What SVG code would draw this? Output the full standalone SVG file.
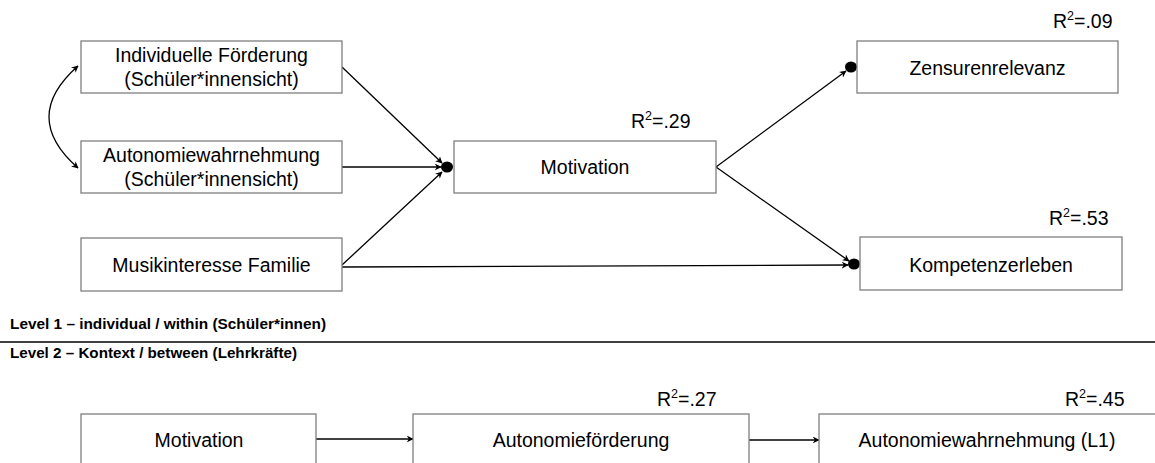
<svg xmlns="http://www.w3.org/2000/svg" width="1155" height="463" viewBox="0 0 1155 463">
<style>
  .box { fill: #ffffff; stroke: #7f7f7f; stroke-width: 1.3; }
  .lbl { font-family: "Liberation Sans", Arial, sans-serif; font-size: 19.5px; fill: #000; text-anchor: middle; }
  .r2 { font-family: "Liberation Sans", Arial, sans-serif; font-size: 19.5px; fill: #000; }
  .lvl { font-family: "Liberation Sans", Arial, sans-serif; font-size: 14px; font-weight: bold; fill: #000; }
  .edge { fill: none; stroke: #000; stroke-width: 1.3; }
  .dot { fill: #000; }
</style>
<defs>
  <marker id="ah" viewBox="0 0 10 10" refX="9" refY="5" markerWidth="7" markerHeight="7" markerUnits="userSpaceOnUse" orient="auto-start-reverse">
    <path d="M0,0 L10,5 L0,10 L3,5 Z" fill="#000"/>
  </marker>
</defs>
<rect width="1155" height="463" fill="#ffffff"/>

<g id="connectors">
  <path class="edge" d="M78,66 Q20,117 78,168" marker-start="url(#ah)" marker-end="url(#ah)"/>
  <line class="edge" x1="342" y1="67" x2="442" y2="163" marker-end="url(#ah)"/>
  <line class="edge" x1="342" y1="167" x2="441" y2="167" marker-end="url(#ah)"/>
  <line class="edge" x1="342" y1="265" x2="442" y2="172" marker-end="url(#ah)"/>
  <line class="edge" x1="716" y1="167" x2="846" y2="71" marker-end="url(#ah)"/>
  <line class="edge" x1="716" y1="167" x2="849" y2="261" marker-end="url(#ah)"/>
  <line class="edge" x1="342" y1="267" x2="848" y2="265" marker-end="url(#ah)"/>
  <line class="edge" x1="316" y1="439" x2="413" y2="439" marker-end="url(#ah)"/>
  <line class="edge" x1="749" y1="440" x2="819" y2="440" marker-end="url(#ah)"/>
  <ellipse class="dot" cx="447" cy="167" rx="6" ry="5.5"/>
  <ellipse class="dot" cx="851" cy="67" rx="6" ry="5.5"/>
  <ellipse class="dot" cx="854" cy="264" rx="6" ry="5.5"/>
</g>

<g id="n-individuelle">
  <rect class="box" x="81" y="41" width="261" height="52"/>
  <text class="lbl" x="211.5" y="62">Individuelle Förderung</text>
  <text class="lbl" x="211.5" y="86">(Schüler*innensicht)</text>
</g>
<g id="n-autonomie">
  <rect class="box" x="81" y="141" width="261" height="52"/>
  <text class="lbl" x="211.5" y="162">Autonomiewahrnehmung</text>
  <text class="lbl" x="211.5" y="186">(Schüler*innensicht)</text>
</g>
<g id="n-musik">
  <rect class="box" x="81" y="238" width="261" height="53"/>
  <text class="lbl" x="211.5" y="272">Musikinteresse Familie</text>
</g>
<g id="n-motivation">
  <rect class="box" x="454" y="141" width="262" height="52"/>
  <text class="lbl" x="585" y="174">Motivation</text>
  <text class="r2" x="631" y="128">R<tspan font-size="12.5" dy="-8">2</tspan><tspan dy="8">=.29</tspan></text>
</g>
<g id="n-zensur">
  <rect class="box" x="857" y="41" width="261" height="52"/>
  <text class="lbl" x="987.5" y="75">Zensurenrelevanz</text>
  <text class="r2" x="1053" y="28">R<tspan font-size="12.5" dy="-8">2</tspan><tspan dy="8">=.09</tspan></text>
</g>
<g id="n-kompetenz">
  <rect class="box" x="860" y="237" width="262" height="53"/>
  <text class="lbl" x="991" y="272">Kompetenzerleben</text>
  <text class="r2" x="1049" y="225">R<tspan font-size="12.5" dy="-8">2</tspan><tspan dy="8">=.53</tspan></text>
</g>

<g id="levels">
  <text class="lvl" x="10" y="329" textLength="316" lengthAdjust="spacingAndGlyphs">Level 1 – individual / within (Schüler*innen)</text>
  <line x1="0" y1="342" x2="1155" y2="342" stroke="#404040" stroke-width="2"/>
  <text class="lvl" x="10" y="358" textLength="287" lengthAdjust="spacingAndGlyphs">Level 2 – Kontext / between (Lehrkräfte)</text>
</g>

<g id="n-l2-motivation">
  <rect class="box" x="81" y="414" width="235" height="70"/>
  <text class="lbl" x="199" y="447">Motivation</text>
</g>
<g id="n-l2-autonomiefoerderung">
  <rect class="box" x="413" y="414" width="336" height="70"/>
  <text class="lbl" x="581" y="447">Autonomieförderung</text>
  <text class="r2" x="657" y="406">R<tspan font-size="12.5" dy="-8">2</tspan><tspan dy="8">=.27</tspan></text>
</g>
<g id="n-l2-autonomiewahrnehmung">
  <rect class="box" x="819" y="414" width="350" height="70"/>
  <text class="lbl" x="987" y="447">Autonomiewahrnehmung (L1)</text>
  <text class="r2" x="1065" y="406">R<tspan font-size="12.5" dy="-8">2</tspan><tspan dy="8">=.45</tspan></text>
</g>
</svg>
